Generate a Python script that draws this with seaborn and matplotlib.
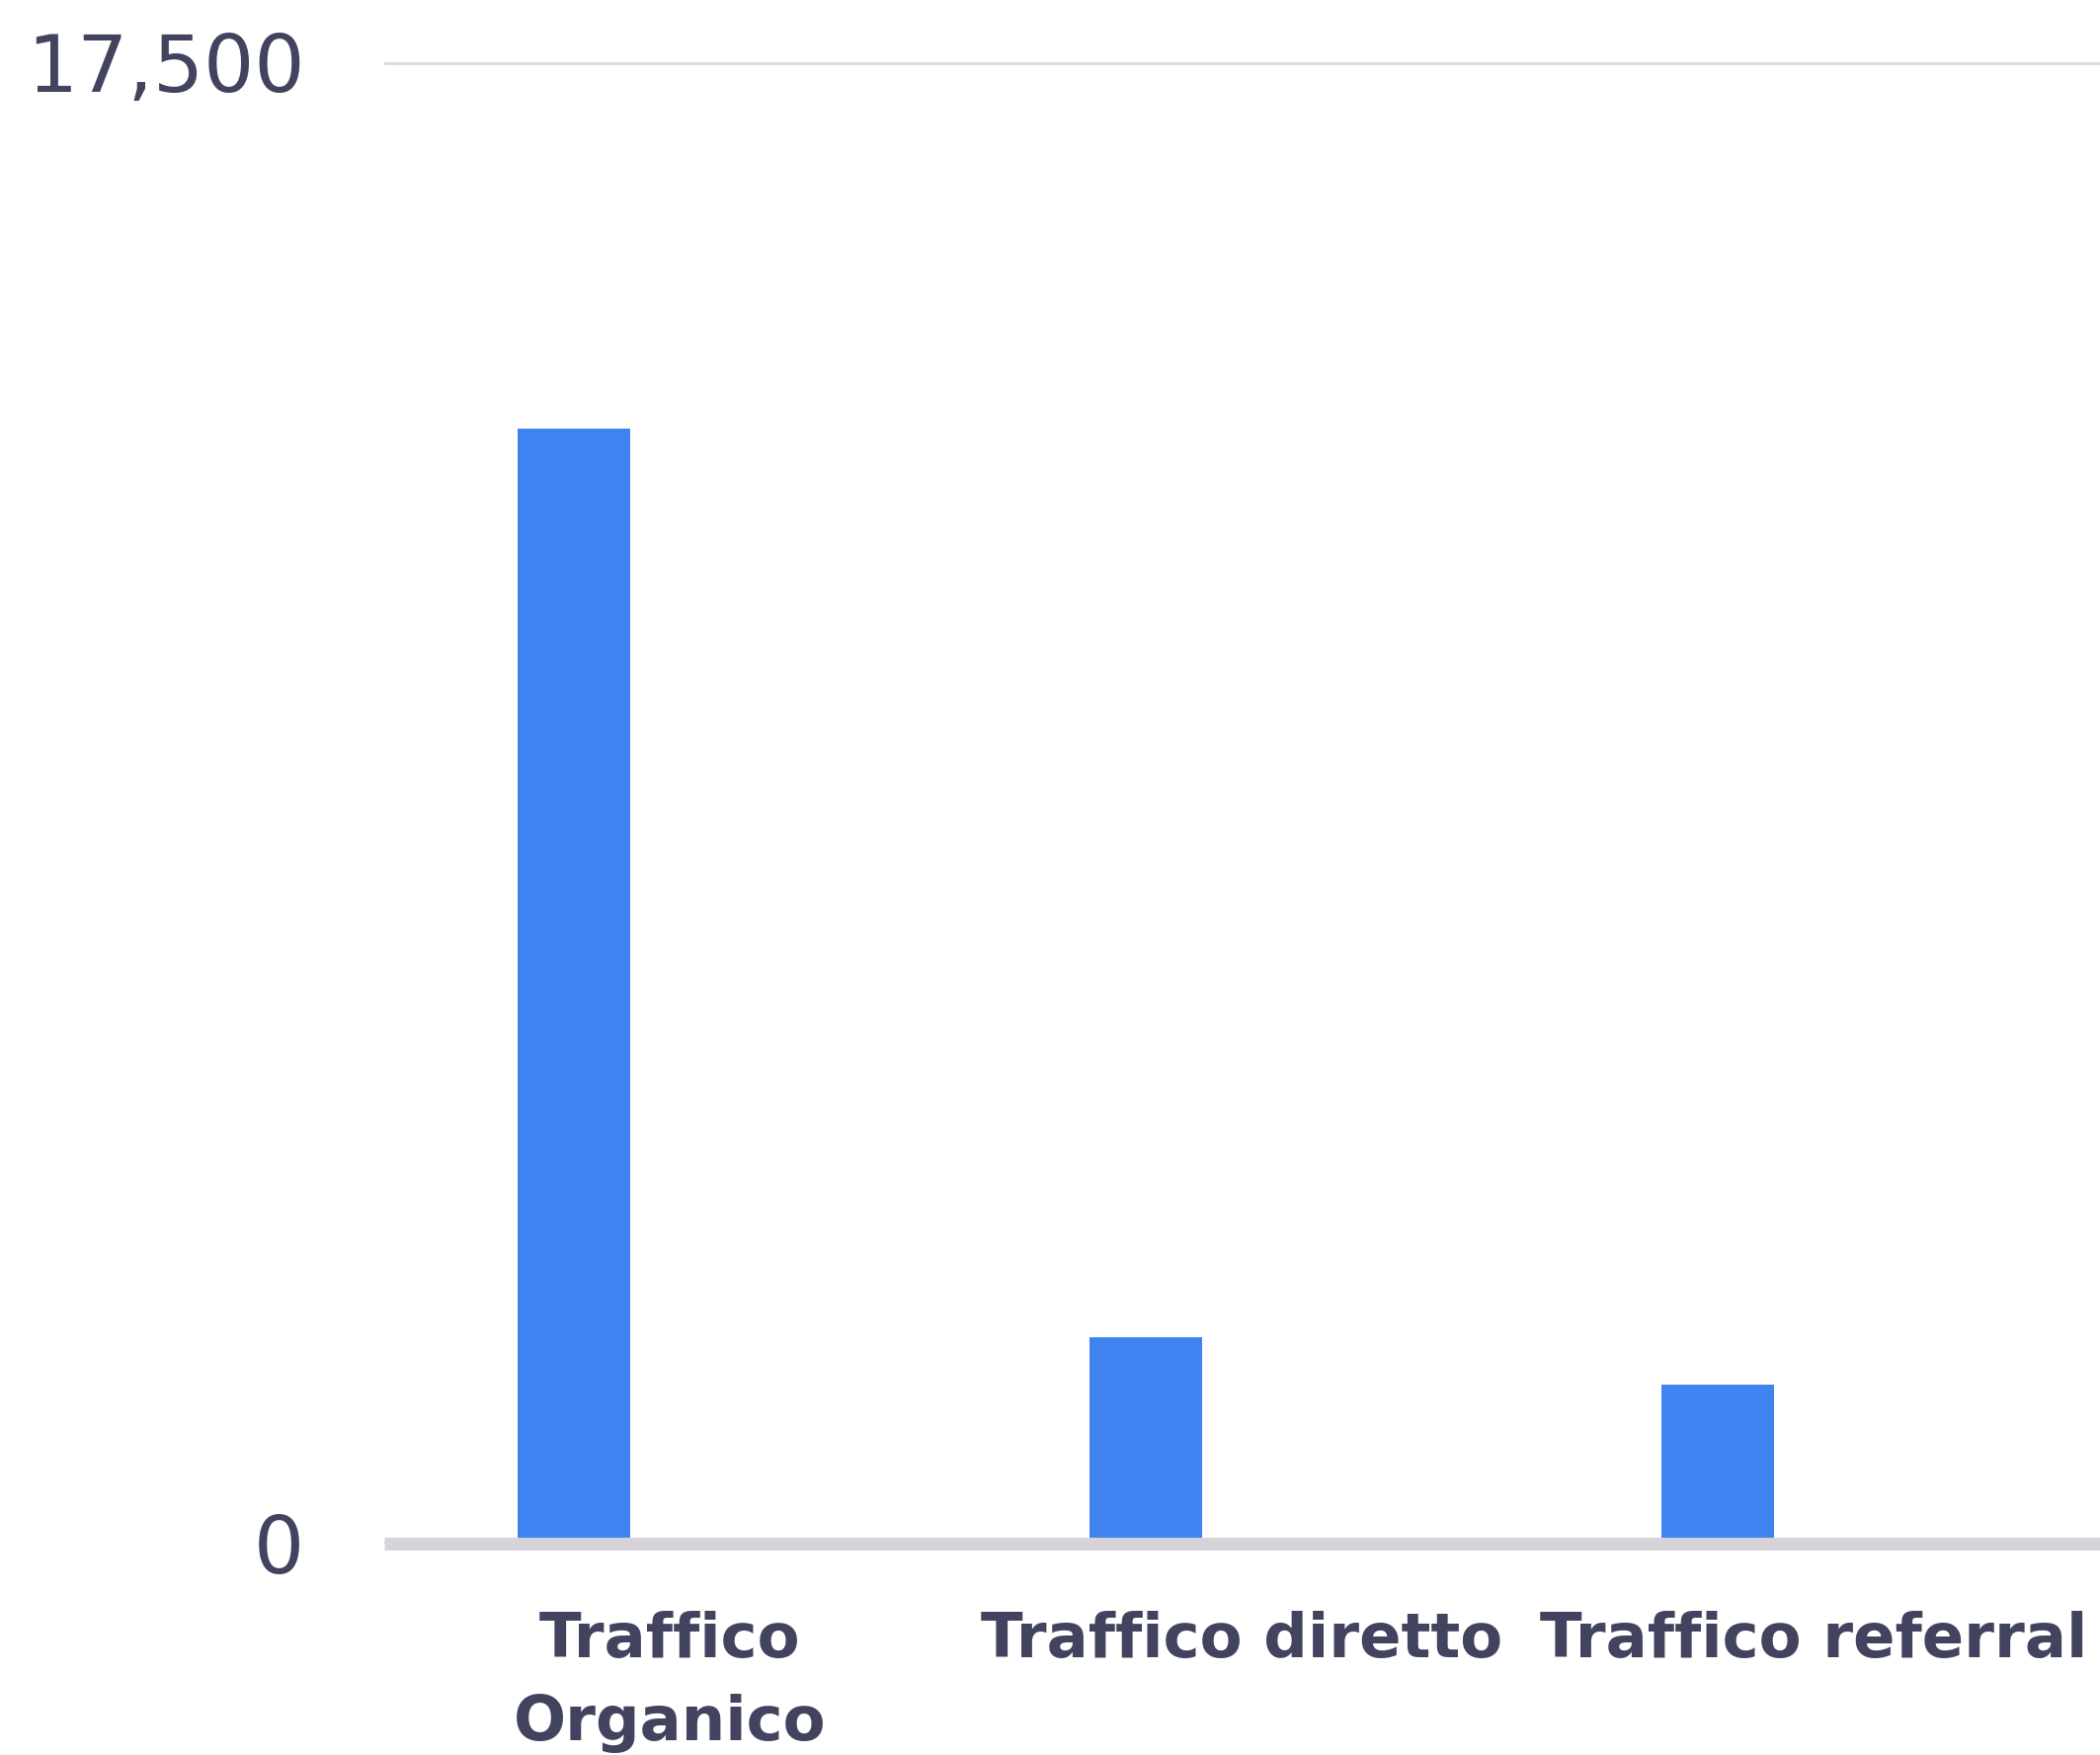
import matplotlib
matplotlib.use("Agg")
import matplotlib.pyplot as plt
import seaborn as sns
import pandas as pd

# ---- data ----
categories = ["Traffico Organico", "Traffico diretto", "Traffico referral"]
tick_labels = ["Traffico\nOrganico", "Traffico diretto", "Traffico referral"]
visite = [13170, 2440, 1875]
series_name = "Visite"
y_ticks = [0, 17500]

TEXT = "#42435e"
BAR = "#3f83f0"

df = pd.DataFrame({"categoria": categories, "visite": visite, "serie": [series_name] * len(categories)})

sns.set_theme(style="white")
plt.rcParams["font.family"] = ["DejaVu Sans"]

fig = plt.figure(figsize=(21.26, 17.77), dpi=100)
ax = fig.add_axes([389 / 2126, (1777 - 1563) / 1777, 1 - 389 / 2126, (1563 - 63) / 1777])

sns.barplot(data=df, x="categoria", y="visite", hue="serie",
            hue_order=[series_name, "_vuoto"], palette=[BAR, "#ffffff"],
            dodge=True, saturation=1, width=0.676, gap=0.417, legend=False,
            linewidth=0, ax=ax, zorder=2)

ax.set_xlim(-0.5, 2.5)
ax.set_ylim(0, 17500)
ax.set_yticks(y_ticks)
ax.set_yticklabels([f"{v:,}" for v in y_ticks], fontsize=58, color=TEXT)
ax.set_xticks(range(len(categories)))
ax.set_xticklabels(tick_labels, fontsize=45, color=TEXT, fontweight="bold", linespacing=1.5)
ax.tick_params(axis="y", length=0, pad=58)
ax.tick_params(axis="x", length=0, pad=49)
ax.set_xlabel("")
ax.set_ylabel("")
for s in ax.spines.values():
    s.set_visible(False)

ax.yaxis.grid(True, color="#d9d9d9", linewidth=3.3, zorder=0)
ax.set_axisbelow(True)
ax.axhline(0, color="#d6d4d8", linewidth=9.4, zorder=5, clip_on=False, solid_capstyle="butt")

fig.savefig("out.png", dpi=100, facecolor="white")
